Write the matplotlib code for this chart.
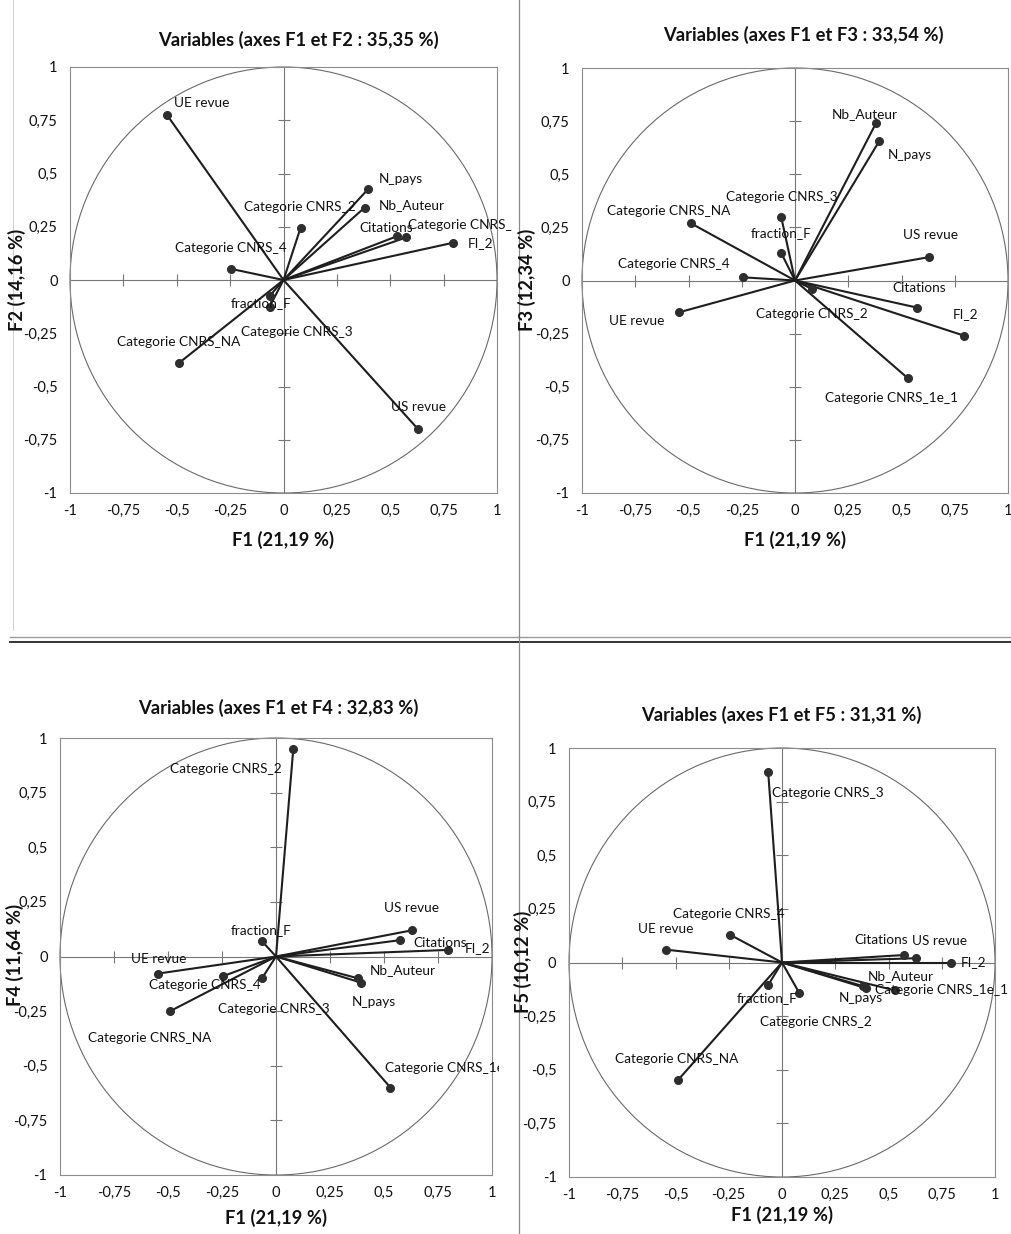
import numpy as np
import matplotlib
matplotlib.use("Agg")
import matplotlib.pyplot as plt
from matplotlib.lines import Line2D
from matplotlib.patches import Circle
from matplotlib.transforms import offset_copy, Bbox

plt.rcParams['font.family'] = ['Lato', 'DejaVu Sans']

# ---------------- data ----------------
variables = ["UE revue", "US revue", "N_pays", "Nb_Auteur", "Categorie CNRS_2",
             "Citations", "Categorie CNRS_1e_1", "FI_2", "Categorie CNRS_4",
             "fraction_F", "Categorie CNRS_3", "Categorie CNRS_NA"]
F1 = [-0.545, 0.63, 0.395, 0.38, 0.08, 0.575, 0.53, 0.795, -0.245, -0.065, -0.065, -0.49]
F2 = [0.774, -0.70, 0.425, 0.34, 0.245, 0.20, 0.205, 0.175, 0.052, -0.075, -0.125, -0.39]
F3 = [-0.15, 0.11, 0.655, 0.74, -0.04, -0.128, -0.46, -0.26, 0.015, 0.13, 0.30, 0.27]
F4 = [-0.078, 0.12, -0.12, -0.10, 0.95, 0.075, -0.60, 0.03, -0.09, 0.07, -0.10, -0.25]
F5 = [0.06, 0.02, -0.12, -0.11, -0.14, 0.035, -0.13, 0.0, 0.13, -0.105, 0.89, -0.55]

titles = ["Variables (axes F1 et F2 : 35,35 %)", "Variables (axes F1 et F3 : 33,54 %)",
          "Variables (axes F1 et F4 : 32,83 %)", "Variables (axes F1 et F5 : 31,31 %)"]
xlabel = "F1 (21,19 %)"
ylabels = ["F2 (14,16 %)", "F3 (12,34 %)", "F4 (11,64 %)", "F5 (10,12 %)"]
ticks = [-1, -0.75, -0.5, -0.25, 0, 0.25, 0.5, 0.75, 1]
tick_labels = ["-1", "-0,75", "-0,5", "-0,25", "0", "0,25", "0,5", "0,75", "1"]

# ---------------- layout (pixels) ----------------
W, H = 1011, 1234
DPI = 100
fig = plt.figure(figsize=(W / DPI, H / DPI), dpi=DPI)

def fx(x):
    return x / W

def fy(y):
    return 1 - y / H

# axes boxes: left, top, right, bottom
boxes = [(70, 67, 497, 493), (582, 68, 1008, 493),
         (60, 738, 492, 1175), (569, 748, 995, 1177)]
title_pos = [(298, 40), (803, 35), (278, 708), (781, 715)]
xlabel_pos = [(283, 540), (795, 540), (276, 1218), (782, 1215)]
ylabel_pos = [(17, 280), (527, 280), (15, 955), (523, 962)]
clip_right = [512, 1011, 499, 1011]

# label offsets (pixels: dx right, dy down) from point to label left edge / vertical centre
offsets = [
    {"UE revue": (7, -12), "N_pays": (11, -10), "Nb_Auteur": (14, -3),
     "Categorie CNRS_2": (-57, -21), "Citations": (-47, -9), "Categorie CNRS_1e_1": (11, -11),
     "FI_2": (15, 0), "Categorie CNRS_4": (-56, -21), "fraction_F": (-39, 7),
     "Categorie CNRS_3": (-29, 25), "Categorie CNRS_NA": (-62, -21), "US revue": (-27, -22)},
    {"Nb_Auteur": (-44, -9), "N_pays": (9, 14), "Categorie CNRS_3": (-55, -20),
     "fraction_F": (-30, -20), "Categorie CNRS_NA": (-84, -12), "Categorie CNRS_4": (-125, -13),
     "US revue": (-26, -22), "Citations": (-25, -20), "FI_2": (-12, -22),
     "Categorie CNRS_1e_1": (-83, 20), "UE revue": (-70, 9), "Categorie CNRS_2": (-56, 25)},
    {"Categorie CNRS_2": (-123, 20), "fraction_F": (-31, -11), "US revue": (-28, -22),
     "Citations": (13, 3), "FI_2": (17, -2), "UE revue": (-27, -15),
     "Categorie CNRS_4": (-74, 9), "Categorie CNRS_3": (-44, 31), "Categorie CNRS_NA": (-82, 27),
     "Nb_Auteur": (12, -8), "N_pays": (-10, 19), "Categorie CNRS_1e_1": (-5, -20)},
    {"Categorie CNRS_3": (4, 21), "Categorie CNRS_4": (-57, -21), "UE revue": (-28, -21),
     "Citations": (-50, -15), "US revue": (-4, -17), "FI_2": (9, 0),
     "Nb_Auteur": (5, -10), "N_pays": (-27, 10), "Categorie CNRS_1e_1": (-20, 0),
     "fraction_F": (-31, 13), "Categorie CNRS_2": (-39, 29), "Categorie CNRS_NA": (-63, -21)},
]

ys = [F2, F3, F4, F5]
frame_col = '#8c8c8c'
line_col = '#1e1e1e'

for i in range(4):
    l, t, r, b = boxes[i]
    ax = fig.add_axes([fx(l), fy(b), (r - l) / W, (b - t) / H])
    ax.set_xlim(-1, 1)
    ax.set_ylim(-1, 1)
    for sp in ax.spines.values():
        sp.set_color(frame_col)
        sp.set_linewidth(0.8)
    ax.set_xticks(ticks)
    ax.set_xticklabels(tick_labels)
    ax.set_yticks(ticks)
    ax.set_yticklabels(tick_labels)
    ax.tick_params(length=0, labelsize=10.5, colors='#111111')
    ax.tick_params(axis='x', pad=8)
    ax.tick_params(axis='y', pad=9)

    # centre axes with tick marks
    ax.axhline(0, color='#777777', lw=0.8, zorder=1)
    ax.axvline(0, color='#777777', lw=0.8, zorder=1)
    tk = [v for v in ticks if v not in (-1, 0, 1)]
    ax.plot(tk, [0] * len(tk), ls='none', marker='|', ms=8, mew=0.8, color='#777777', zorder=1)
    ax.plot([0] * len(tk), tk, ls='none', marker='_', ms=8, mew=0.8, color='#777777', zorder=1)

    # correlation circle
    ax.add_patch(Circle((0, 0), 1, fill=False, ec='#6a6a6a', lw=0.8, zorder=1, clip_on=False))

    yv = ys[i]
    for name, x, y in zip(variables, F1, yv):
        ax.plot([0, x], [0, y], color=line_col, lw=1.5, zorder=3, solid_capstyle='round')
        ax.plot([x], [y], marker='o', ms=5.5, color='#2e2e2e', zorder=4)
        dx, dy = offsets[i][name]
        tr = offset_copy(ax.transData, fig=fig, x=dx, y=-dy, units='dots')
        txt = ax.text(x, y, name, transform=tr, ha='left', va='center',
                      fontsize=9.8, color='#111111', zorder=5, clip_on=True)
        txt.set_clip_box(Bbox.from_extents(0, 0, clip_right[i], H))

    fig.text(fx(title_pos[i][0]), fy(title_pos[i][1]), titles[i], ha='center', va='center',
             fontsize=13.2, fontweight='bold', color='#111111')
    fig.text(fx(xlabel_pos[i][0]), fy(xlabel_pos[i][1]), xlabel, ha='center', va='center',
             fontsize=13.2, fontweight='bold', color='#111111')
    fig.text(fx(ylabel_pos[i][0]), fy(ylabel_pos[i][1]), ylabels[i], ha='center', va='center',
             rotation=90, fontsize=13.2, fontweight='bold', color='#111111')

# page separators
fig.add_artist(Line2D([fx(10), fx(1011)], [fy(637), fy(637)], color='#9a9a9a', lw=1.0))
fig.add_artist(Line2D([fx(10), fx(1011)], [fy(642), fy(642)], color='#333333', lw=1.4))
fig.add_artist(Line2D([fx(519), fx(519)], [fy(0), fy(1234)], color='#8a8a8a', lw=0.9))
fig.add_artist(Line2D([fx(13), fx(13)], [fy(0), fy(630)], color='#cfcfcf', lw=0.7))

fig.savefig("out.png", dpi=DPI)
